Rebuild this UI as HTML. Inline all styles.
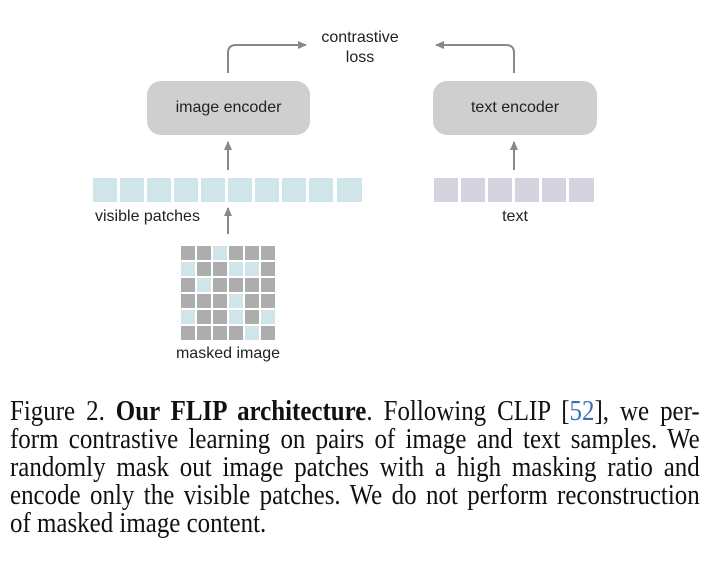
<!DOCTYPE html>
<html><head><meta charset="utf-8"><style>
html,body{margin:0;padding:0;background:#fff;width:722px;height:576px;overflow:hidden;position:relative}
.s{font-family:"Liberation Sans",sans-serif;color:#222;position:absolute;white-space:nowrap;font-size:16px}
.cap{position:absolute;left:10px;width:802px;transform:scaleX(0.86);transform-origin:0 0;font-family:"Liberation Serif",serif;font-size:29px;color:#111}
.cap div{height:28px;line-height:28px;text-align:justify;text-align-last:justify;white-space:nowrap}
.cap div.l{text-align-last:left}
</style></head><body>
<svg width="722" height="380" style="position:absolute;left:0;top:0">
<defs><marker id="a" markerWidth="10" markerHeight="10" refX="8" refY="5" orient="auto" markerUnits="userSpaceOnUse"><path d="M0,1 L9,5 L0,9 z" fill="#888"/></marker></defs>
<rect x="147" y="81" width="163" height="54" rx="14" fill="#cfcfcf"/>
<rect x="433" y="81" width="164" height="54" rx="14" fill="#cfcfcf"/>
<g stroke="#888" stroke-width="2" fill="none">
<path d="M228,73 V53 Q228,45 236,45 H306" marker-end="url(#a)"/>
<path d="M514,73 V53 Q514,45 506,45 H436" marker-end="url(#a)"/>
<path d="M228,170 V142" marker-end="url(#a)"/>
<path d="M514,170 V142" marker-end="url(#a)"/>
<path d="M228,234 V208" marker-end="url(#a)"/>
</g>
<g fill="#cfe5ea">
<rect x="93" y="178" width="24" height="24"/><rect x="120" y="178" width="24" height="24"/><rect x="147" y="178" width="24" height="24"/><rect x="174" y="178" width="24" height="24"/><rect x="201" y="178" width="24" height="24"/><rect x="228" y="178" width="24" height="24"/><rect x="255" y="178" width="24" height="24"/><rect x="282" y="178" width="24" height="24"/><rect x="309" y="178" width="24" height="24"/><rect x="337" y="178" width="25" height="24"/>
</g>
<g fill="#d4d3e0">
<rect x="434" y="178" width="24" height="24"/><rect x="461" y="178" width="24" height="24"/><rect x="488" y="178" width="24" height="24"/><rect x="515" y="178" width="24" height="24"/><rect x="542" y="178" width="24" height="24"/><rect x="569" y="178" width="25" height="24"/>
</g>
<g fill="#adadad">
<rect x="181" y="246" width="14" height="14"/><rect x="197" y="246" width="14" height="14"/><rect x="213" y="246" width="14" height="14" fill="#cfe5ea"/><rect x="229" y="246" width="14" height="14"/><rect x="245" y="246" width="14" height="14"/><rect x="261" y="246" width="14" height="14"/>
<rect x="181" y="262" width="14" height="14" fill="#cfe5ea"/><rect x="197" y="262" width="14" height="14"/><rect x="213" y="262" width="14" height="14"/><rect x="229" y="262" width="14" height="14" fill="#cfe5ea"/><rect x="245" y="262" width="14" height="14" fill="#cfe5ea"/><rect x="261" y="262" width="14" height="14"/>
<rect x="181" y="278" width="14" height="14"/><rect x="197" y="278" width="14" height="14" fill="#cfe5ea"/><rect x="213" y="278" width="14" height="14"/><rect x="229" y="278" width="14" height="14"/><rect x="245" y="278" width="14" height="14"/><rect x="261" y="278" width="14" height="14"/>
<rect x="181" y="294" width="14" height="14"/><rect x="197" y="294" width="14" height="14"/><rect x="213" y="294" width="14" height="14"/><rect x="229" y="294" width="14" height="14" fill="#cfe5ea"/><rect x="245" y="294" width="14" height="14"/><rect x="261" y="294" width="14" height="14"/>
<rect x="181" y="310" width="14" height="14" fill="#cfe5ea"/><rect x="197" y="310" width="14" height="14"/><rect x="213" y="310" width="14" height="14"/><rect x="229" y="310" width="14" height="14" fill="#cfe5ea"/><rect x="245" y="310" width="14" height="14"/><rect x="261" y="310" width="14" height="14" fill="#cfe5ea"/>
<rect x="181" y="326" width="14" height="14"/><rect x="197" y="326" width="14" height="14"/><rect x="213" y="326" width="14" height="14"/><rect x="229" y="326" width="14" height="14"/><rect x="245" y="326" width="14" height="14" fill="#cfe5ea"/><rect x="261" y="326" width="14" height="14"/>
</g>
</svg>
<div class="s" style="left:310px;top:28px;width:100px;text-align:center;line-height:20px">contrastive<br>loss</div>
<div class="s" style="left:147px;top:99px;width:163px;text-align:center">image encoder</div>
<div class="s" style="left:433px;top:99px;width:164px;text-align:center">text encoder</div>
<div class="s" style="left:95px;top:208px">visible patches</div>
<div class="s" style="left:490px;top:208px;width:50px;text-align:center">text</div>
<div class="s" style="left:150px;top:345px;width:156px;text-align:center">masked image</div>
<div class="cap" style="top:397px">
<div>Figure 2. <b>Our FLIP architecture</b>. Following CLIP [<span style="color:#3a6fb0">52</span>], we per-</div>
<div>form contrastive learning on pairs of image and text samples. We</div>
<div>randomly mask out image patches with a high masking ratio and</div>
<div>encode only the visible patches. We do not perform reconstruction</div>
<div class="l">of masked image content.</div>
</div>
</body></html>
